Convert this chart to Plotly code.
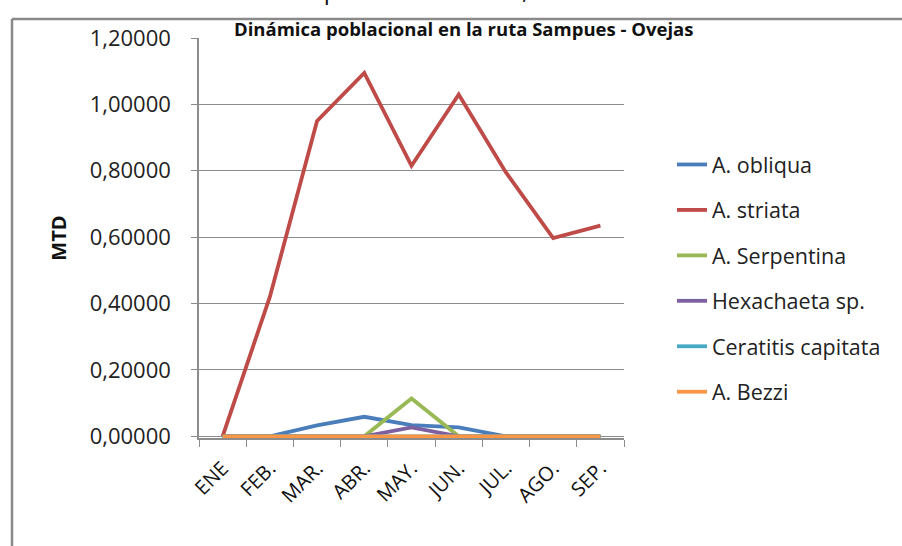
import plotly.graph_objects as go

months = ["ENE", "FEB.", "MAR.", "ABR.", "MAY.", "JUN.", "JUL.", "AGO.", "SEP."]
a_obliqua = [0, 0, 0.033, 0.059, 0.034, 0.027, 0, 0, 0]
a_striata = [0, 0.42, 0.95, 1.095, 0.815, 1.03, 0.795, 0.597, 0.635]
a_serpentina = [0, 0, 0, 0, 0.114, 0, 0, 0, 0]
hexachaeta = [0, 0, 0, 0, 0.027, 0, 0, 0, 0]
ceratitis = [0, 0, 0, 0, 0, 0, 0, 0, 0]
a_bezzi = [0, 0, 0, 0, 0, 0, 0, 0, 0]

series = [
    ("A. obliqua", a_obliqua, "#4A7EBB"),
    ("A. striata", a_striata, "#BE4B48"),
    ("A. Serpentina", a_serpentina, "#98B954"),
    ("Hexachaeta sp.", hexachaeta, "#7D60A0"),
    ("Ceratitis capitata", ceratitis, "#46AAC5"),
    ("A. Bezzi", a_bezzi, "#F79646"),
]

fig = go.Figure()
for i, (name, vals, col) in enumerate(series):
    fig.add_trace(go.Scatter(x=months, y=vals, name=name, mode="lines",
                             line=dict(color=col, width=3.8),
                             legendgroup=str(i)))

W, H = 902, 546
L, R, T, B = 199, 624, 38, 438
pw, ph = R - L, B - T

def px(x):
    return (x - L) / pw

def py(y):
    return (B - y) / ph

fig.update_layout(
    width=W, height=H,
    margin=dict(l=L, r=W - R, t=T, b=H - B, autoexpand=False),
    paper_bgcolor="white", plot_bgcolor="white",
    separators=",.",
    font=dict(family="Open Sans, Liberation Sans, sans-serif", color="#222"),
    showlegend=True,
    legend=dict(x=px(672), y=py(144), xanchor="left", yanchor="top",
                font=dict(size=21.5, color="#222"), tracegroupgap=14.5,
                bgcolor="rgba(0,0,0,0)"),
    xaxis=dict(type="category", range=[-0.5, 8.5], showgrid=False,
               showline=True, linecolor="#8c8c8c", linewidth=1.5,
               ticks="outside", ticklen=7, tickcolor="#8c8c8c",
               tickson="boundaries", tickangle=-45, ticklabelstandoff=9,
               tickfont=dict(size=20, color="#111")),
    yaxis=dict(range=[-0.005, 1.2], tickvals=[0, 0.2, 0.4, 0.6, 0.8, 1.0, 1.2],
               tickformat=".5f", showgrid=True, gridcolor="#8c8c8c", gridwidth=1,
               zeroline=False, showline=True, linecolor="#8c8c8c", linewidth=1.5,
               ticks="outside", ticklen=6, tickcolor="#8c8c8c",
               ticklabelstandoff=16,
               tickfont=dict(size=22, color="#222"),
               title=dict(text="<b>MTD</b>", font=dict(size=20, color="#111"),
                          standoff=18)),
    annotations=[
        dict(text="<b>Dinámica poblacional en la ruta Sampues - Ovejas</b>",
             xref="paper", yref="paper", x=px(463), y=py(28),
             xanchor="center", yanchor="middle", showarrow=False,
             font=dict(size=18.5, color="#111")),
        dict(text="Septiembre de 2011, ruta Pe2.",
             xref="paper", yref="paper", x=px(466), y=py(-10),
             xanchor="center", yanchor="middle", showarrow=False,
             font=dict(size=24, color="#111")),
    ],
    shapes=[
        dict(type="line", xref="paper", yref="paper", x0=px(12), x1=px(905),
             y0=py(19), y1=py(19), line=dict(color="#8a8a8a", width=2.5)),
        dict(type="line", xref="paper", yref="paper", x0=px(12), x1=px(12),
             y0=py(19), y1=py(550), line=dict(color="#8a8a8a", width=2.5)),
    ],
)

fig.write_html("out.html", config={"displayModeBar": False},
               post_script="document.body.style.margin='0';document.body.style.padding='0';")
